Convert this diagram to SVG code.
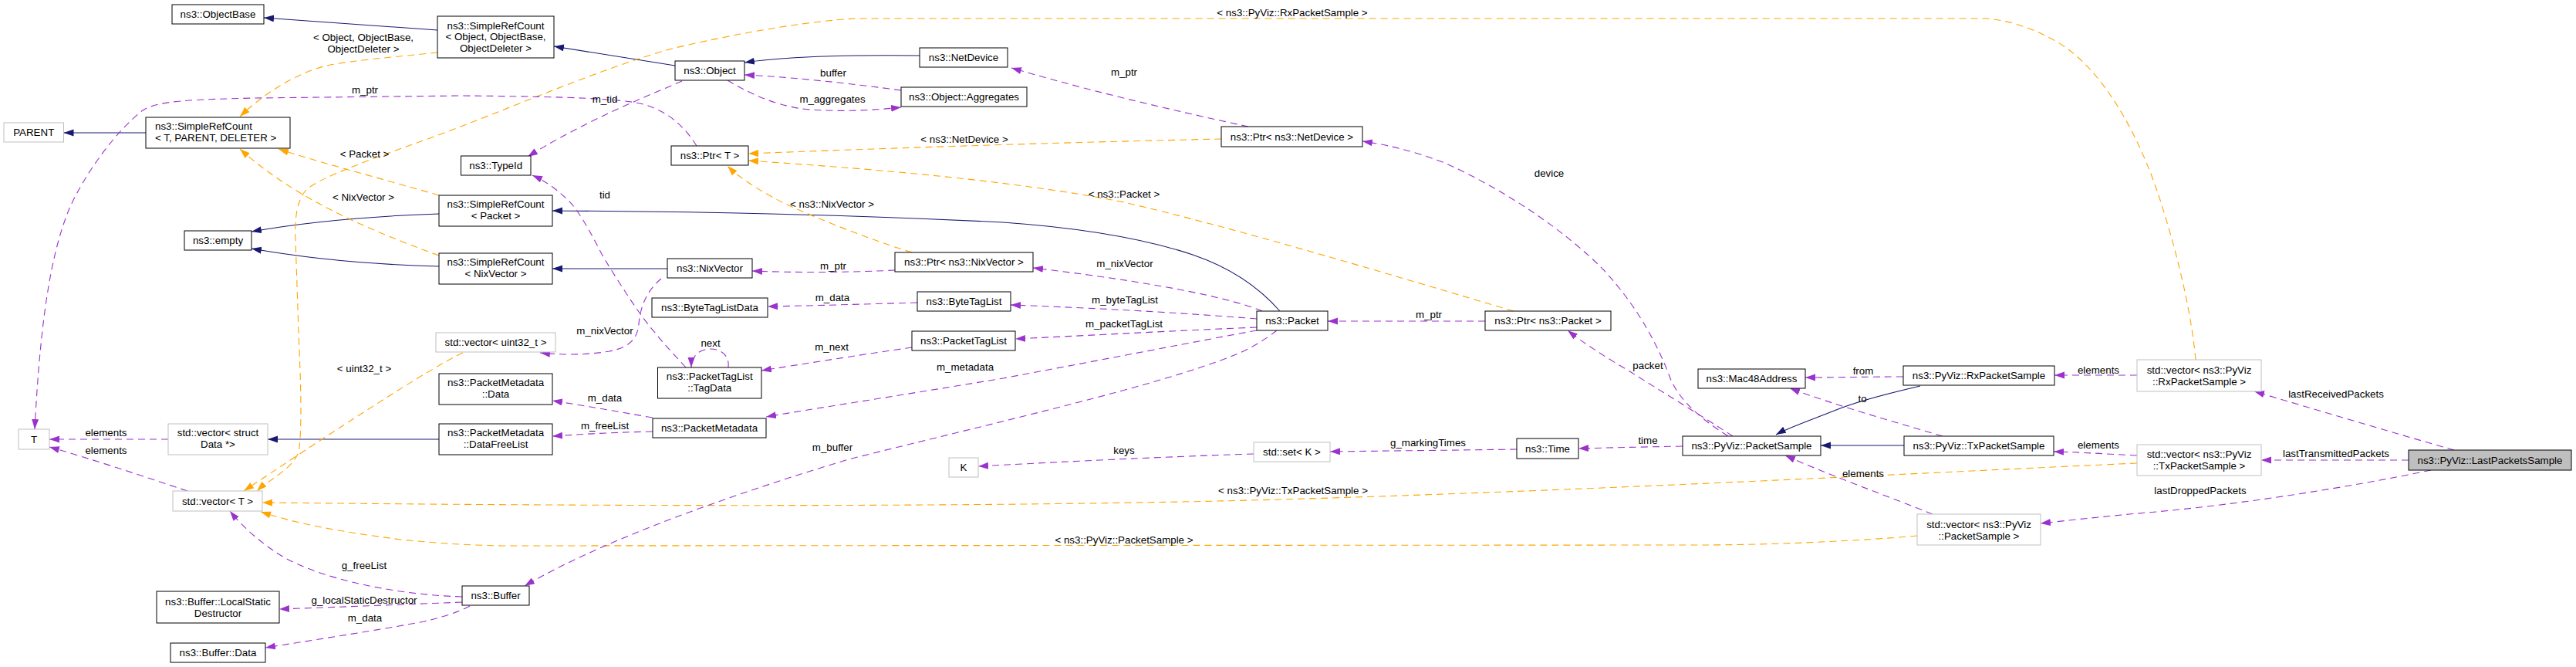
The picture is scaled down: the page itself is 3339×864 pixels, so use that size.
<svg xmlns="http://www.w3.org/2000/svg" width="3339" height="864" viewBox="0 0 3339 864">
<defs>
<style>
text{font-family:"Liberation Sans",Arial,Helvetica,sans-serif;font-size:13.33px;fill:#000;text-anchor:middle}
.nb rect{fill:#fff;stroke:#000;stroke-width:1}
.ng rect{fill:#fff;stroke:#bfbfbf;stroke-width:1}
.nc rect{fill:#bfbfbf;stroke:#000;stroke-width:1}
.b{fill:none;stroke:#191970;stroke-width:1.1;marker-end:url(#ab)}
.p{fill:none;stroke:#9a32cd;stroke-width:1.1;stroke-dasharray:9,6;marker-end:url(#ap)}
.o{fill:none;stroke:#ffa500;stroke-width:1.1;stroke-dasharray:9,6;marker-end:url(#ao)}
</style>
<marker id="ab" markerUnits="userSpaceOnUse" markerWidth="14" markerHeight="10" refX="13" refY="4.5" orient="auto"><path d="M0,0 L13,4.5 L0,9 z" fill="#191970"/></marker>
<marker id="ap" markerUnits="userSpaceOnUse" markerWidth="14" markerHeight="10" refX="13" refY="4.5" orient="auto"><path d="M0,0 L13,4.5 L0,9 z" fill="#9a32cd"/></marker>
<marker id="ao" markerUnits="userSpaceOnUse" markerWidth="14" markerHeight="10" refX="13" refY="4.5" orient="auto"><path d="M0,0 L13,4.5 L0,9 z" fill="#ffa500"/></marker>
</defs>
<rect x="0" y="0" width="3339" height="864" fill="#fff"/>
<g id="connectors">
<!-- inheritance -->
<path class="b" d="M567,39 L342,23"/>
<path class="b" d="M875,85 L718,60"/>
<path class="b" d="M1192,72 C1110,71 1020,73 965,81"/>
<path class="b" d="M189,172 L82.5,172"/>
<path class="b" d="M569,277 C480,280 400,287 326,300"/>
<path class="b" d="M569,345 C490,343 400,335 326,322"/>
<path class="b" d="M1659,403 C1630,370 1590,345 1546,330 C1480,308 1400,295 1300,288 C1100,278 900,274 716,273"/>
<path class="b" d="M865,348 L716,348"/>
<path class="b" d="M569,569 L347,569"/>
<path class="b" d="M2489,500 C2450,509 2410,519 2380,531 C2345,545 2320,553 2302,563"/>
<path class="b" d="M2468,577 L2360,577"/>
<!-- template instances -->
<path class="o" d="M567,68 C520,73 460,78 428,84 C390,92 345,118 311,151"/>
<path class="o" d="M569,253 C500,233 420,212 361,193"/>
<path class="o" d="M569,331 C470,295 380,255 311,193"/>
<path class="o" d="M2846,466 C2840,400 2820,320 2797,250 C2775,185 2730,90 2664,53 C2630,34 2600,26 2575,24 L1110,24 C1050,27 960,42 871,63 C780,88 650,145 560,178 C470,210 410,232 396,247 C384,262 382,285 383,310 L387,430 C389,480 392,540 388,580 C385,605 350,620 333,636"/>
<path class="o" d="M2770,600 C2500,612 2100,634 1660,647 C1300,657 800,656 340,651"/>
<path class="o" d="M2485,694 C2420,700 2300,706 2200,706 L650,707 C600,706 560,703 520,699 C450,690 390,680 338,663"/>
<path class="o" d="M600,457 C560,475 430,560 316,636"/>
<path class="o" d="M1583,180 C1400,184 1200,190 970,199"/>
<path class="o" d="M1962,403 C1800,355 1600,295 1457,262 C1320,235 1150,220 970,208"/>
<path class="o" d="M1182,327 C1120,308 1040,275 1014,262 C990,250 960,232 943,215"/>
<!-- usage -->
<path class="p" d="M903,189 C885,160 860,140 825,133 C780,126 700,125 600,124 L330,127 C250,129 205,130 185,143 C150,170 110,225 90,270 C65,330 52,420 45,556"/>
<path class="p" d="M884,105 C850,120 760,155 684,203"/>
<path class="p" d="M1168,117 C1100,108 1030,100 965,97"/>
<path class="p" d="M943,104 C970,120 1000,135 1040,141 C1090,146 1140,142 1168,139"/>
<path class="p" d="M1618,164 C1530,145 1420,120 1311,88"/>
<path class="p" d="M1160,350 C1120,352 1050,354 975,351"/>
<path class="p" d="M1636,403 C1580,380 1450,360 1339,347"/>
<path class="p" d="M857,361 C840,375 830,395 828,420 C826,440 815,450 790,455 C760,460 730,460 700,457"/>
<path class="p" d="M1189,392 C1120,394 1050,396 995,397"/>
<path class="p" d="M1629,413 C1530,405 1420,399 1310,395"/>
<path class="p" d="M1629,424 C1530,428 1420,434 1316,439"/>
<path class="p" d="M1182,450 C1120,459 1050,470 987,480"/>
<path class="p" d="M944,476 C946,462 936,452 921,452 C906,452 896,462 896,476"/>
<path class="p" d="M889,476 C870,455 860,445 850,432 C830,410 805,370 782,333 C765,300 750,272 735,258 C722,246 710,236 690,227"/>
<path class="p" d="M1629,428 C1600,433 1450,462 1300,490 C1150,515 1050,530 993,540"/>
<path class="p" d="M1655,428 C1640,440 1620,452 1600,460 C1500,500 1300,545 1100,595 C950,640 780,700 680,759"/>
<path class="p" d="M846,541 C800,533 760,526 716,519"/>
<path class="p" d="M846,559 C800,560 760,562 716,565"/>
<path class="p" d="M599,773 C500,770 400,745 357,715 C335,700 315,683 298,662"/>
<path class="p" d="M599,780 C500,784 420,787 362,789"/>
<path class="p" d="M609,785 C590,795 570,800 550,805 C480,818 400,830 344,839"/>
<path class="p" d="M218,569 L64,569"/>
<path class="p" d="M243,636 C180,615 120,595 64,579"/>
<path class="p" d="M1625,588 C1500,592 1380,598 1268,604"/>
<path class="p" d="M1966,582 C1900,583 1800,584 1724,585"/>
<path class="p" d="M2181,578 C2130,579 2080,580 2046,581"/>
<path class="p" d="M1925,416 L1721,416"/>
<path class="p" d="M2246,565 C2200,535 2150,505 2114,482 C2080,462 2055,446 2032,428"/>
<path class="p" d="M2240,565 C2200,540 2175,515 2165,490 C2150,450 2125,400 2079,350 C2030,300 1950,245 1870,210 C1830,195 1800,188 1766,183"/>
<path class="p" d="M2467,488 C2420,488 2380,489 2340,489"/>
<path class="p" d="M2518,565 C2450,545 2380,525 2320,503"/>
<path class="p" d="M2505,666 C2440,640 2370,615 2314,590"/>
<path class="p" d="M2770,486 L2663,486"/>
<path class="p" d="M2770,590 C2730,588 2700,586 2662,585"/>
<path class="p" d="M3181,583 C3100,560 3000,530 2922,507"/>
<path class="p" d="M3122,596 L2931,596"/>
<path class="p" d="M3151,609 C3050,630 2900,655 2760,666 C2720,670 2680,674 2645,678"/>
<!-- labels -->
<text x="471" y="53">&lt; Object, ObjectBase,</text>
<text x="471" y="68">ObjectDeleter &gt;</text>
<text x="473" y="121">m_ptr</text>
<text x="472.5" y="204">&lt; Packet &gt;</text>
<text x="471" y="260">&lt; NixVector &gt;</text>
<text x="137.5" y="565">elements</text>
<text x="137.5" y="588">elements</text>
<text x="472" y="482">&lt; uint32_t &gt;</text>
<text x="472" y="737">g_freeList</text>
<text x="472" y="782">g_localStaticDestructor</text>
<text x="473" y="805">m_data</text>
<text x="784" y="133">m_tid</text>
<text x="1080" y="99">buffer</text>
<text x="1079" y="133">m_aggregates</text>
<text x="784" y="257">tid</text>
<text x="1078.5" y="269">&lt; ns3::NixVector &gt;</text>
<text x="1080" y="349">m_ptr</text>
<text x="1079" y="390">m_data</text>
<text x="784" y="433">m_nixVector</text>
<text x="921" y="449">next</text>
<text x="1078" y="454">m_next</text>
<text x="784" y="520">m_data</text>
<text x="784" y="556">m_freeList</text>
<text x="1079" y="584">m_buffer</text>
<text x="1675" y="21">&lt; ns3::PyViz::RxPacketSample &gt;</text>
<text x="1250" y="185">&lt; ns3::NetDevice &gt;</text>
<text x="1457" y="98">m_ptr</text>
<text x="1457" y="256">&lt; ns3::Packet &gt;</text>
<text x="1458" y="346">m_nixVector</text>
<text x="1458" y="393">m_byteTagList</text>
<text x="1457" y="424">m_packetTagList</text>
<text x="1251" y="480">m_metadata</text>
<text x="1457" y="588">keys</text>
<text x="1676" y="640">&lt; ns3::PyViz::TxPacketSample &gt;</text>
<text x="1457" y="704">&lt; ns3::PyViz::PacketSample &gt;</text>
<text x="2008" y="229">device</text>
<text x="1852" y="412">m_ptr</text>
<text x="2136" y="478">packet</text>
<text x="1851" y="578">g_markingTimes</text>
<text x="2136" y="575">time</text>
<text x="2415" y="485">from</text>
<text x="2414" y="521">to</text>
<text x="2415" y="618">elements</text>
<text x="2720" y="484">elements</text>
<text x="2720" y="581">elements</text>
<text x="3028" y="515">lastReceivedPackets</text>
<text x="3028" y="592">lastTransmittedPackets</text>
<text x="2852" y="640">lastDroppedPackets</text>
</g>
<g id="ObjectBase" class="nb"><rect x="223" y="6" width="119" height="25"/><text x="282.5" y="23.3">ns3::ObjectBase</text></g>
<g id="PARENT" class="ng"><rect x="5" y="159" width="77.5" height="25"/><text x="43.75" y="176.3">PARENT</text></g>
<g id="SimpleRefCount_T" class="nb"><rect x="189" y="152" width="187" height="40"/><text x="201" y="168" style="text-anchor:start">ns3::SimpleRefCount</text><text x="201" y="183" style="text-anchor:start">&lt; T, PARENT, DELETER &gt;</text></g>
<g id="empty" class="nb"><rect x="239" y="299" width="87" height="25"/><text x="282.5" y="316.3">ns3::empty</text></g>
<g id="T" class="ng"><rect x="24" y="556" width="40" height="26"/><text x="44" y="573.8">T</text></g>
<g id="vector_struct_Data" class="ng"><rect x="218" y="549" width="129" height="40"/><text x="282.5" y="565">std::vector&lt; struct</text><text x="282.5" y="580">Data *&gt;</text></g>
<g id="vector_T" class="ng"><rect x="224" y="636" width="116" height="26"/><text x="282" y="653.8">std::vector&lt; T &gt;</text></g>
<g id="LocalStaticDestructor" class="nb"><rect x="203" y="766" width="159" height="41"/><text x="282.5" y="784">ns3::Buffer::LocalStatic</text><text x="282.5" y="799">Destructor</text></g>
<g id="BufferData" class="nb"><rect x="221" y="833" width="123" height="25"/><text x="282.5" y="850.3">ns3::Buffer::Data</text></g>
<g id="SimpleRefCount_Object" class="nb"><rect x="567" y="21" width="151" height="54"/><text x="642.5" y="37.5">ns3::SimpleRefCount</text><text x="642.5" y="52">&lt; Object, ObjectBase,</text><text x="642.5" y="66.5">ObjectDeleter &gt;</text></g>
<g id="Object" class="nb"><rect x="875" y="79" width="90" height="25"/><text x="920" y="96.3">ns3::Object</text></g>
<g id="TypeId" class="nb"><rect x="597.5" y="202" width="90.5" height="25"/><text x="642.7" y="219.3">ns3::TypeId</text></g>
<g id="PtrT" class="nb"><rect x="870" y="189" width="100" height="25"/><text x="920" y="206.3">ns3::Ptr&lt; T &gt;</text></g>
<g id="SimpleRefCount_Packet" class="nb"><rect x="569" y="253" width="147" height="40"/><text x="642.5" y="269">ns3::SimpleRefCount</text><text x="642.5" y="284">&lt; Packet &gt;</text></g>
<g id="SimpleRefCount_NixVector" class="nb"><rect x="569" y="328" width="147" height="40"/><text x="642.5" y="344">ns3::SimpleRefCount</text><text x="642.5" y="359">&lt; NixVector &gt;</text></g>
<g id="NixVector" class="nb"><rect x="865" y="335" width="110" height="25"/><text x="920" y="352.3">ns3::NixVector</text></g>
<g id="ByteTagListData" class="nb"><rect x="845" y="386" width="150" height="25"/><text x="920" y="403.3">ns3::ByteTagListData</text></g>
<g id="vector_uint32" class="ng"><rect x="565" y="431" width="155" height="25"/><text x="642.5" y="448.3">std::vector&lt; uint32_t &gt;</text></g>
<g id="TagData" class="nb"><rect x="852.5" y="476" width="134.5" height="40"/><text x="919.75" y="492">ns3::PacketTagList</text><text x="919.75" y="507">::TagData</text></g>
<g id="PacketMetadataData" class="nb"><rect x="569" y="484" width="147" height="40"/><text x="642.5" y="500">ns3::PacketMetadata</text><text x="642.5" y="515">::Data</text></g>
<g id="DataFreeList" class="nb"><rect x="569" y="549" width="147" height="40"/><text x="642.5" y="565">ns3::PacketMetadata</text><text x="642.5" y="580">::DataFreeList</text></g>
<g id="PacketMetadata" class="nb"><rect x="846" y="542" width="147" height="25"/><text x="919.5" y="559.3">ns3::PacketMetadata</text></g>
<g id="Buffer" class="nb"><rect x="599" y="759" width="87" height="25"/><text x="642.5" y="776.3">ns3::Buffer</text></g>
<g id="NetDevice" class="nb"><rect x="1192" y="62" width="114" height="25"/><text x="1249" y="79.3">ns3::NetDevice</text></g>
<g id="Aggregates" class="nb"><rect x="1168" y="113" width="163" height="25"/><text x="1249.5" y="130.3">ns3::Object::Aggregates</text></g>
<g id="PtrNetDevice" class="nb"><rect x="1583" y="164" width="183" height="26"/><text x="1674.5" y="181.8">ns3::Ptr&lt; ns3::NetDevice &gt;</text></g>
<g id="PtrNixVector" class="nb"><rect x="1160" y="327" width="179" height="25"/><text x="1249.5" y="344.3">ns3::Ptr&lt; ns3::NixVector &gt;</text></g>
<g id="ByteTagList" class="nb"><rect x="1189" y="378" width="121" height="25"/><text x="1249.5" y="395.3">ns3::ByteTagList</text></g>
<g id="PacketTagList" class="nb"><rect x="1182" y="429" width="134" height="25"/><text x="1249" y="446.3">ns3::PacketTagList</text></g>
<g id="Packet" class="nb"><rect x="1629" y="403" width="92" height="25"/><text x="1675" y="420.3">ns3::Packet</text></g>
<g id="PtrPacket" class="nb"><rect x="1925" y="403" width="163" height="25"/><text x="2006.5" y="420.3">ns3::Ptr&lt; ns3::Packet &gt;</text></g>
<g id="K" class="ng"><rect x="1230" y="593" width="38" height="25"/><text x="1249" y="610.3">K</text></g>
<g id="setK" class="ng"><rect x="1625" y="573" width="99" height="25"/><text x="1674.5" y="590.3">std::set&lt; K &gt;</text></g>
<g id="Time" class="nb"><rect x="1966" y="568" width="80" height="26"/><text x="2006" y="585.8">ns3::Time</text></g>
<g id="PacketSample" class="nb"><rect x="2181" y="565" width="179" height="25"/><text x="2270.5" y="582.3">ns3::PyViz::PacketSample</text></g>
<g id="Mac48Address" class="nb"><rect x="2201" y="478" width="139" height="25"/><text x="2270.5" y="495.3">ns3::Mac48Address</text></g>
<g id="RxPacketSample" class="nb"><rect x="2467" y="474" width="196" height="25"/><text x="2565" y="491.3">ns3::PyViz::RxPacketSample</text></g>
<g id="TxPacketSample" class="nb"><rect x="2468" y="565" width="194" height="25"/><text x="2565" y="582.3">ns3::PyViz::TxPacketSample</text></g>
<g id="vector_PacketSample" class="ng"><rect x="2485" y="666" width="160" height="40"/><text x="2565" y="684">std::vector&lt; ns3::PyViz</text><text x="2565" y="699">::PacketSample &gt;</text></g>
<g id="vector_RxPacketSample" class="ng"><rect x="2770" y="466" width="161" height="41"/><text x="2850.5" y="484">std::vector&lt; ns3::PyViz</text><text x="2850.5" y="499">::RxPacketSample &gt;</text></g>
<g id="vector_TxPacketSample" class="ng"><rect x="2770" y="576" width="161" height="40"/><text x="2850.5" y="593">std::vector&lt; ns3::PyViz</text><text x="2850.5" y="608">::TxPacketSample &gt;</text></g>
<g id="LastPacketsSample" class="nc"><rect x="3122" y="583" width="211" height="26"/><text x="3227.5" y="600.8">ns3::PyViz::LastPacketsSample</text></g>
</svg>
